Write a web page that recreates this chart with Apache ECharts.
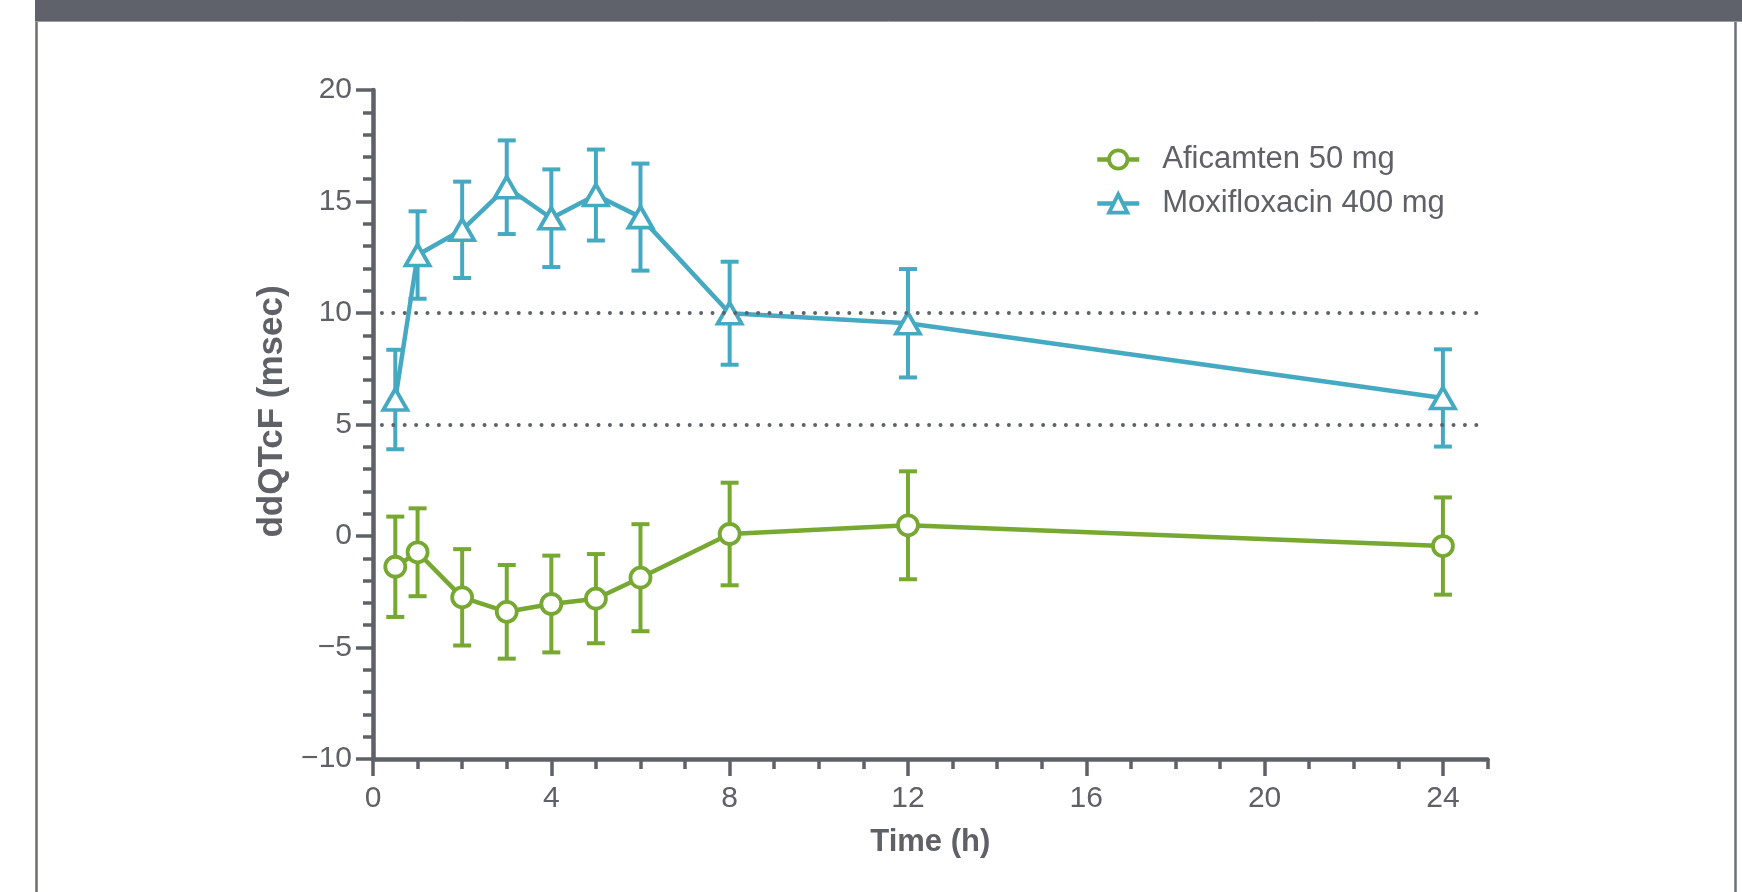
<!DOCTYPE html>
<html>
<head>
<meta charset="utf-8">
<script src="https://cdn.jsdelivr.net/npm/echarts@6/dist/echarts.min.js"></script>
<style>
  html, body { margin: 0; padding: 0; background: #fff; }
  #container { width: 1742px; height: 892px; }
</style>
</head>
<body>
<div id="container"></div>
<script>
var dom = document.getElementById("container");
var myChart = echarts.init(dom);
var option;

// time points (h)
var timePoints = [0.5, 1, 2, 3, 4, 5, 6, 8, 12, 24];

// ddQTcF means and error bar half-widths (msec)
var aficamtenMean = [-1.38, -0.73, -2.75, -3.4, -3.05, -2.81, -1.87, 0.09, 0.48, -0.45];
var aficamtenErr = [2.25, 1.97, 2.16, 2.1, 2.17, 2.0, 2.4, 2.3, 2.42, 2.18];
var moxiMean = [6.12, 12.6, 13.73, 15.64, 14.25, 15.29, 14.3, 9.99, 9.54, 6.19];
var moxiErr = [2.23, 1.96, 2.16, 2.1, 2.19, 2.04, 2.4, 2.31, 2.43, 2.18];

var refLines = [10, 5];
var xMajorTicks = [0, 4, 8, 12, 16, 20, 24];

var green = "#76a832";
var blue = "#46a9c2";
var grey = "#5e6168";
var textGrey = "#5f6167";
var font = "Liberation Sans";

function pairs(means) {
    return means.map(function (v, i) {
        return [timePoints[i], v];
    });
}

function bars(means, errs) {
    return means.map(function (v, i) {
        return [timePoints[i], v - errs[i], v + errs[i]];
    });
}

function errorBarItem(color) {
    return function (params, api) {
        var top = api.coord([api.value(0), api.value(2)]);
        var bot = api.coord([api.value(0), api.value(1)]);
        var half = 9;
        var style = { stroke: color, lineWidth: 4, fill: null };
        return {
            type: "group",
            children: [
                { type: "line", shape: { x1: top[0], y1: top[1], x2: bot[0], y2: bot[1] }, style: style },
                { type: "line", shape: { x1: top[0] - half, y1: top[1], x2: top[0] + half, y2: top[1] }, style: style },
                { type: "line", shape: { x1: bot[0] - half, y1: bot[1], x2: bot[0] + half, y2: bot[1] }, style: style },
            ],
        };
    };
}

option = {
    animation: false,
    backgroundColor: "#fff",
    textStyle: { fontFamily: font },
    graphic: [
        { type: "rect", shape: { x: 35, y: 0, width: 1707, height: 21 }, style: { fill: "#5f626a" }, z: 10 },
        { type: "line", shape: { x1: 36.5, y1: 21, x2: 36.5, y2: 892 }, style: { stroke: "#6c6f76", lineWidth: 2.5 } },
        { type: "line", shape: { x1: 1735.5, y1: 21, x2: 1735.5, y2: 892 }, style: { stroke: "#6c6f76", lineWidth: 2.5 } },
        { type: "line", shape: { x1: 35, y1: 21.5, x2: 1742, y2: 21.5 }, style: { stroke: "#9a9ca1", lineWidth: 1 } },
    ],
    legend: {
        orient: "vertical",
        left: 1090,
        top: 139,
        itemWidth: 42,
        itemHeight: 23,
        itemGap: 13,
        lineStyle: { width: 4.5 },
        itemStyle: { borderWidth: 3.8 },
        textStyle: {
            color: textGrey,
            fontSize: 31,
            fontFamily: font,
            padding: [0, 0, 0, 18],
        },
        data: ["Aficamten 50 mg", "Moxifloxacin 400 mg"],
    },
    grid: {
        left: 373,
        right: 254.5,
        top: 90,
        bottom: 133,
        containLabel: false,
    },
    xAxis: [
        {
            type: "value",
            position: "bottom",
            min: 0,
            max: 25,
            interval: 1,
            axisLine: { onZero: false, lineStyle: { color: grey, width: 4.5 } },
            axisTick: { length: 10, lineStyle: { color: grey, width: 3.5 } },
            axisLabel: {
                customValues: xMajorTicks,
                color: textGrey,
                fontSize: 30,
                margin: 25,
                fontFamily: font,
            },
            splitLine: { show: false },
            name: "Time (h)",
            nameLocation: "middle",
            nameGap: 68,
            nameTextStyle: { color: textGrey, fontSize: 31, fontWeight: "bold", fontFamily: font },
        },
        {
            type: "value",
            position: "bottom",
            min: 0,
            max: 25,
            interval: 4,
            axisLine: { show: false, onZero: false },
            axisTick: { customValues: xMajorTicks, length: 17, lineStyle: { color: grey, width: 3.5 } },
            axisLabel: { show: false },
            splitLine: { show: false },
        },
    ],
    yAxis: {
        type: "value",
        min: -10,
        max: 20,
        interval: 5,
        axisLine: { show: true, lineStyle: { color: grey, width: 4.5 } },
        axisTick: { show: true, length: 17, lineStyle: { color: grey, width: 3.5 } },
        minorTick: { show: true, splitNumber: 5, length: 10, lineStyle: { color: grey, width: 3.5 } },
        axisLabel: {
            color: textGrey,
            fontSize: 30,
            margin: 21,
            fontFamily: font,
            formatter: function (v) {
                return v < 0 ? "\u2212" + Math.abs(v) : String(v);
            },
        },
        splitLine: { show: false },
        name: "ddQTcF (msec)",
        nameLocation: "middle",
        nameRotate: 90,
        nameGap: 64,
        nameTextStyle: {
            color: textGrey,
            fontSize: 35,
            fontWeight: "bold",
            fontFamily: font,
            padding: [0, 0, 0, 26],
        },
    },
    series: [
        {
            name: "aficamten-err",
            type: "custom",
            renderItem: errorBarItem(green),
            data: bars(aficamtenMean, aficamtenErr),
            encode: { x: 0, y: [1, 2] },
            z: 2,
            silent: true,
            markLine: {
                silent: true,
                symbol: "none",
                label: { show: false },
                lineStyle: { color: grey, width: 4, type: [0, 11.4], cap: "round" },
                data: refLines.map(function (v) {
                    return [{ coord: [0.2, v] }, { coord: [25, v] }];
                }),
            },
        },
        {
            name: "moxi-err",
            type: "custom",
            renderItem: errorBarItem(blue),
            data: bars(moxiMean, moxiErr),
            encode: { x: 0, y: [1, 2] },
            z: 2,
            silent: true,
        },
        {
            name: "Aficamten 50 mg",
            type: "line",
            data: pairs(aficamtenMean),
            symbol: "circle",
            symbolSize: 20,
            lineStyle: { color: green, width: 4.5 },
            itemStyle: { color: "#fff", borderColor: green, borderWidth: 3.8 },
            z: 3,
        },
        {
            name: "Moxifloxacin 400 mg",
            type: "line",
            data: pairs(moxiMean),
            symbol: "triangle",
            symbolSize: [24, 21],
            lineStyle: { color: blue, width: 4.5 },
            itemStyle: { color: "#fff", borderColor: blue, borderWidth: 3.8 },
            z: 4,
        },
    ],
};

if (option && typeof option === "object") {
    myChart.setOption(option);
}
</script>
</body>
</html>
